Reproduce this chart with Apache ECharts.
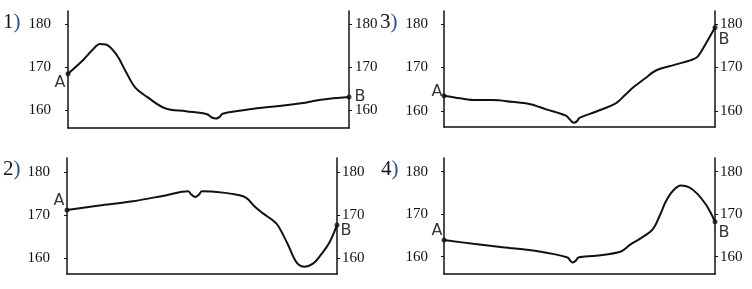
<!DOCTYPE html>
<html><head><meta charset="utf-8">
<script src="https://cdn.jsdelivr.net/npm/echarts@6/dist/echarts.min.js"></script>
<style>html,body{margin:0;padding:0;background:#fff}#c{width:752px;height:289px}</style>
</head><body><div id="c"></div>
<script>
// ---- data (distance along profile 0..100, elevation) ----
const tickValues = [160, 170, 180];
const panelNames = ['1', '3', '2', '4'];

const p1X = [0,5.4,8.5,11.4,13.5,17.3,20.5,23.8,28,34.5,42,49.5,51,52.7,54,55,61,67.2,75,83.7,87.3,93,100];
const p1Y = [168.4,171.6,173.8,175.3,175.2,172.8,169.0,165.3,163.1,160.4,159.7,159.0,158.3,158.0,158.4,159.1,159.8,160.4,160.9,161.6,162.1,162.6,163.0];

const p3X = [0,6,11.8,18,25,31.5,38,45,46.5,47.8,49,50,56,63.5,67,70.2,74,78.2,85,91.1,93.6,96.7,100];
const p3Y = [163.5,162.9,162.5,162.5,162.1,161.6,160.3,158.9,158.0,157.3,157.6,158.4,159.8,161.8,163.8,165.6,167.4,169.3,170.6,171.7,172.5,175.6,179.2];

const p2X = [0,12,24.4,36.8,44.8,46,47.5,48.8,50,57.8,63,66.4,69.5,72.6,77.5,80,81.9,85,88,91.1,94,97.3,100];
const p2Y = [171.2,172.2,173.2,174.6,175.5,174.8,174.2,174.7,175.5,175.2,174.7,174.0,172.0,170.4,168.1,165.5,163.1,159.1,158.1,158.8,160.8,163.8,167.7];

const p4X = [0,10.8,21.6,35.2,45.6,46.6,47.5,48.6,49.6,56.1,65.3,68.7,72.1,77,79.5,81.9,84.5,87.5,90.5,93.6,96.7,98.5,100];
const p4Y = [163.9,163.0,162.2,161.2,159.8,159.0,158.6,159.0,159.8,160.2,161.2,162.8,164.1,166.4,169.5,173.0,175.5,176.7,176.3,174.7,172.2,170.2,168.2];

const panelX = [p1X, p3X, p2X, p4X];
const panelY = [p1Y, p3Y, p2Y, p4Y];

// ---- layout ----
const grids = [
  {left: 68, top: 11, width: 281, height: 117, min: 155.8, max: 183.0, lm: 17, rm: 6},
  {left: 444, top: 11, width: 271, height: 116, min: 156.3, max: 183.0, lm: 16, rm: 5},
  {left: 67, top: 158, width: 270, height: 116, min: 156.4, max: 183.2, lm: 17, rm: 5},
  {left: 444, top: 158, width: 271, height: 116, min: 155.9, max: 183.2, lm: 16, rm: 5}
];
const labelPos = [
  {a: [-8, 9], b: [11, 0]},
  {a: [-7, -4], b: [9, 12]},
  {a: [-8, -9], b: [9, 6]},
  {a: [-7, -9], b: [9, 11]}
];
const nameLabelPos = [[3, 12], [380, 12], [3, 159], [381, 159]];

const ink = '#111';
const option = {
  animation: false,
  backgroundColor: '#fff',
  grid: [], xAxis: [], yAxis: [], series: [], graphic: []
};

grids.forEach((g, i) => {
  option.grid.push({left: g.left, top: g.top, width: g.width, height: g.height, containLabel: false});
  option.xAxis.push({
    type: 'value', gridIndex: i, min: 0, max: 100,
    axisLine: {show: true, onZero: false, lineStyle: {color: ink, width: 1.5}},
    axisTick: {show: false}, axisLabel: {show: false}, splitLine: {show: false}
  });
  ['left', 'right'].forEach(pos => {
    option.yAxis.push({
      type: 'value', gridIndex: i, position: pos, min: g.min, max: g.max,
      axisLine: {show: true, onZero: false, lineStyle: {color: ink, width: 1.5}},
      axisTick: {show: true, length: 3, customValues: tickValues, lineStyle: {color: ink, width: 1}},
      axisLabel: {show: true, customValues: tickValues, margin: pos === 'left' ? g.lm : g.rm,
        fontFamily: 'Liberation Serif', fontSize: 15, color: '#111'},
      splitLine: {show: false}
    });
  });
  const xs = panelX[i], ys = panelY[i];
  const pts = xs.map((x, k) => [x, ys[k]]);
  option.series.push({
    type: 'line', xAxisIndex: i, yAxisIndex: i * 2, data: pts,
    smooth: 0.35, showSymbol: false, symbol: 'none',
    lineStyle: {color: ink, width: 2}
  });
  const n = xs.length - 1;
  const lp = labelPos[i];
  option.series.push({
    type: 'scatter', xAxisIndex: i, yAxisIndex: i * 2, clip: false,
    symbolSize: 5, itemStyle: {color: ink},
    data: [
      {value: [xs[0], ys[0]], label: {formatter: 'A', offset: lp.a}},
      {value: [xs[n], ys[n]], label: {formatter: 'B', offset: lp.b}}
    ],
    label: {show: true, position: 'inside', fontFamily: 'DejaVu Sans', fontSize: 16, color: '#000',
      textBorderWidth: 0, align: 'center', verticalAlign: 'middle'}
  });
  option.graphic.push({
    type: 'text', left: nameLabelPos[i][0], top: nameLabelPos[i][1],
    style: {
      text: '{n|' + panelNames[i] + '}{p|)}',
      rich: {
        n: {fontFamily: 'Liberation Serif', fontSize: 21, fill: '#15151f'},
        p: {fontFamily: 'Liberation Serif', fontSize: 21, fill: '#1f4f9a'}
      }
    }
  });
});

const chart = echarts.init(document.getElementById('c'), null, {renderer: 'canvas'});
chart.setOption(option);
</script>
</body></html>
